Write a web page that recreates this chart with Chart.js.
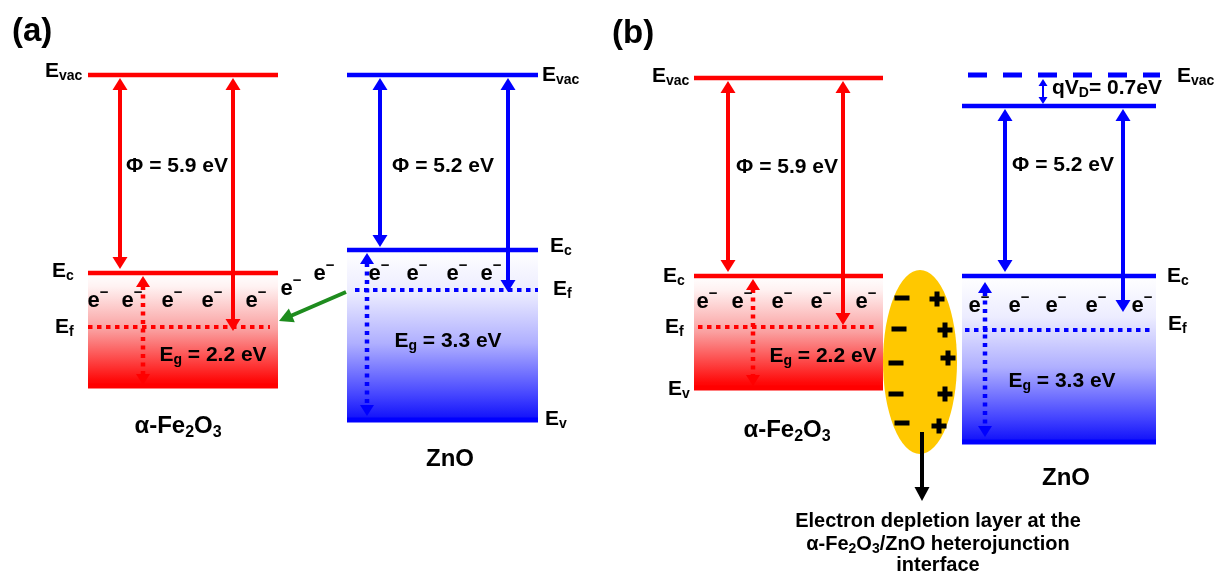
<!DOCTYPE html>
<html>
<head>
<meta charset="utf-8">
<title>Energy band diagram: α-Fe2O3 / ZnO</title>
<script src="https://cdn.jsdelivr.net/npm/chart.js@4/dist/chart.umd.min.js"></script>
<style>
  html, body { margin: 0; padding: 0; background: #ffffff; }
  #wrap { width: 1215px; height: 574px; }
</style>
</head>
<body>
<div id="wrap"><canvas id="diagram" width="1215" height="574"></canvas></div>
<script>
// ---------- values shown on the diagram ----------
const panelTags      = ['(a)', '(b)'];
const blocks         = ['α-Fe2O3 (a)', 'ZnO (a)', 'α-Fe2O3 (b)', 'ZnO (b)'];
const workFunction   = [5.9, 5.2, 5.9, 5.2];   // eV
const bandGap        = [2.2, 3.3, 2.2, 3.3];   // eV
const bandBending    = 0.7;                    // eV, qV_D after contact

// ---------- schematic band positions (diagram units, energy decreases downward) ----------
const bandLeft       = [88, 347, 694, 962];
const bandRight      = [278, 538, 883, 1156];
const vacuumLevel    = [75, 75, 78, 106];
const conductionEdge = [273, 250, 276, 276];
const fermiLevel     = [327, 290, 327, 330];
const valenceEdge    = [386, 420, 388, 442];
const fermiStart     = [88, 355, 698, 965];
const fermiEnd       = [270, 538, 875, 1150];
const zincVacuumRef  = [968, 1160, 75];        // x0, x1, level of ZnO vacuum before contact

const phiArrowX      = [[120, 233], [380, 508], [728, 843], [1005, 1123]];
const phiArrowTop    = [78, 78, 81, 109];
const phiArrowBottom = [[269, 331], [247, 292], [272, 325], [272, 312]];
const gapArrowX      = [143, 367, 753, 985];
const gapArrowSpan   = [[276, 385], [253, 416], [279, 386], [282, 437]];

const electronX = [
  [94, 128, 168, 208, 252],
  [375, 413, 453, 487],
  [703, 738, 778, 817, 862],
  [975, 1015, 1052, 1092, 1138]
];
const electronBase   = [307, 280, 308, 312];
const movingElectrons = [[287, 295], [320, 280]];
const transferArrow  = [[346, 292], [279, 321]];

// depletion layer (panel b)
const depletion      = { cx: 920, cy: 362, rx: 37, ry: 92 };
const negativeIons   = [[902, 298], [899, 329], [896, 363], [896, 394], [902, 423]];
const positiveIons   = [[937, 299], [945, 330], [948, 358], [945, 394], [939, 426]];
const pointerArrow   = [[922, 432], [922, 501]];
const qvArrow        = [1043, 79, 104];

// ---------- text placement ----------
const levelLabels = [
  ['vac', 45, 77],  ['c', 52, 277],  ['f', 55, 333],
  ['vac', 542, 81], ['c', 550, 252], ['f', 553, 295], ['v', 545, 425],
  ['vac', 652, 82], ['c', 663, 282], ['f', 665, 333], ['v', 668, 395],
  ['vac', 1177, 82],['c', 1167, 282],['f', 1168, 330]
];
const phiLabelPos   = [[177, 172], [443, 172], [787, 173], [1063, 171]];
const gapLabelPos   = [[213, 361], [448, 347], [823, 362], [1062, 387]];
const materialPos   = [[178, 433], [450, 466], [787, 437], [1066, 485]];
const panelTagPos   = [[12, 41], [612, 43]];
const noteLines = [
  [['Electron depletion layer at the', 0]],
  [['α-Fe', 0], ['2', 1], ['O', 0], ['3', 1], ['/ZnO heterojunction', 0]],
  [['interface', 0]]
];
const notePos = [938, [527, 550, 571]];

// ---------- styling ----------
const FONT  = '"Liberation Sans", Arial, Helvetica, sans-serif';
const RED   = '#ff0000';
const BLUE  = '#0000ff';
const GREEN = '#1e8c1e';
const INK   = '#000000';
const bandColor = [RED, BLUE, RED, BLUE];
const fillStops = {
  [RED]:  [[0, 'rgba(255,255,255,1)'], [0.12, 'rgba(255,242,242,1)'], [0.5, 'rgba(250,160,160,1)'], [0.95, 'rgba(255,10,10,1)'], [1, 'rgba(255,0,0,1)']],
  [BLUE]: [[0, 'rgba(255,255,255,1)'], [0.25, 'rgba(236,236,255,1)'], [0.55, 'rgba(175,175,255,1)'], [0.85, 'rgba(70,70,255,1)'], [1, 'rgba(15,15,250,1)']]
};

function bandFill(i) {
  return (context) => {
    const chart = context.chart;
    const ys = chart.scales && chart.scales.y;
    if (!ys) return 'rgba(0,0,0,0)';
    const top = ys.getPixelForValue(conductionEdge[i]);
    const bottom = ys.getPixelForValue(valenceEdge[i]);
    if (!isFinite(top) || !isFinite(bottom)) return 'rgba(0,0,0,0)';
    const g = chart.ctx.createLinearGradient(0, top, 0, bottom);
    fillStops[bandColor[i]].forEach(([s, c]) => g.addColorStop(s, c));
    return g;
  };
}

const seg = (x0, x1, y) => [{ x: x0, y }, { x: x1, y }];
const datasets = [];
blocks.forEach((_, i) => {
  const c = bandColor[i];
  datasets.push({ data: seg(bandLeft[i], bandRight[i], vacuumLevel[i]), borderColor: c, borderWidth: 4.5, order: 0 });
  datasets.push({ data: seg(bandLeft[i], bandRight[i], conductionEdge[i]), borderColor: c, borderWidth: 4.5,
                  fill: '+1', backgroundColor: bandFill(i), order: 5 });
  datasets.push({ data: seg(bandLeft[i], bandRight[i], valenceEdge[i]), borderColor: c, borderWidth: 5, order: 0 });
  datasets.push({ data: seg(fermiStart[i], fermiEnd[i], fermiLevel[i]), borderColor: c, borderWidth: 4,
                  borderDash: [4.5, 4.5], order: 0 });
});
datasets.push({ data: seg(zincVacuumRef[0], zincVacuumRef[1], zincVacuumRef[2]), borderColor: BLUE,
                borderWidth: 5, borderDash: [19, 16], order: 0 });

// ---------- drawing helpers ----------
function richText(ctx, parts, x, y, size, align) {
  const pieces = parts.map(([t, k]) => {
    const s = k ? Math.round(size * 0.68) : size;
    ctx.font = `bold ${s}px ${FONT}`;
    return { t, k, s, w: ctx.measureText(t).width };
  });
  const total = pieces.reduce((a, p) => a + p.w, 0);
  let cx = align === 'center' ? x - total / 2 : (align === 'right' ? x - total : x);
  ctx.textAlign = 'left';
  ctx.textBaseline = 'alphabetic';
  pieces.forEach(p => {
    ctx.font = `bold ${p.s}px ${FONT}`;
    const dy = p.k === 1 ? size * 0.16 : (p.k === 2 ? -size * 0.45 : 0);
    ctx.fillText(p.t, cx, y + dy);
    cx += p.w;
  });
}

function arrow(ctx, x0, y0, x1, y1, o) {
  const len = Math.hypot(x1 - x0, y1 - y0);
  const ux = (x1 - x0) / len, uy = (y1 - y0) / len;
  const hl = o.headLen, hw = o.headW / 2;
  const sx = o.start ? x0 + ux * hl * 0.9 : x0, sy = o.start ? y0 + uy * hl * 0.9 : y0;
  const ex = o.end ? x1 - ux * hl * 0.9 : x1, ey = o.end ? y1 - uy * hl * 0.9 : y1;
  ctx.save();
  ctx.strokeStyle = o.color;
  ctx.fillStyle = o.color;
  ctx.lineWidth = o.width;
  ctx.lineCap = 'butt';
  ctx.setLineDash(o.dash || []);
  ctx.beginPath(); ctx.moveTo(sx, sy); ctx.lineTo(ex, ey); ctx.stroke();
  ctx.setLineDash([]);
  const head = (tx, ty, dx, dy) => {
    const bx = tx - dx * hl, by = ty - dy * hl;
    ctx.beginPath();
    ctx.moveTo(tx, ty);
    ctx.lineTo(bx - dy * hw, by + dx * hw);
    ctx.lineTo(bx + dy * hw, by - dx * hw);
    ctx.closePath(); ctx.fill();
  };
  if (o.end) head(x1, y1, ux, uy);
  if (o.start) head(x0, y0, -ux, -uy);
  ctx.restore();
}

const diagramPlugin = {
  id: 'bandDiagram',
  afterDatasetsDraw(chart) {
    const { ctx } = chart;
    const sx = chart.scales.x, sy = chart.scales.y;
    const X = v => sx.getPixelForValue(v);
    const Y = v => sy.getPixelForValue(v);
    ctx.save();

    // depletion layer
    ctx.fillStyle = '#ffc800';
    ctx.beginPath();
    ctx.ellipse(X(depletion.cx), Y(depletion.cy),
                X(depletion.cx + depletion.rx) - X(depletion.cx),
                Y(depletion.cy + depletion.ry) - Y(depletion.cy), 0, 0, Math.PI * 2);
    ctx.fill();
    ctx.fillStyle = INK;
    negativeIons.forEach(([x, y]) => ctx.fillRect(X(x) - 7.5, Y(y) - 2.5, 15, 5));
    positiveIons.forEach(([x, y]) => {
      ctx.fillRect(X(x) - 7.5, Y(y) - 2.5, 15, 5);
      ctx.fillRect(X(x) - 2.5, Y(y) - 7.5, 5, 15);
    });
    arrow(ctx, X(pointerArrow[0][0]), Y(pointerArrow[0][1]), X(pointerArrow[1][0]), Y(pointerArrow[1][1]),
          { color: INK, width: 4, headLen: 14, headW: 15, end: true });

    // work-function and band-gap arrows
    blocks.forEach((_, i) => {
      const c = bandColor[i];
      phiArrowX[i].forEach((ax, k) => {
        arrow(ctx, X(ax), Y(phiArrowTop[i]), X(ax), Y(phiArrowBottom[i][k]),
              { color: c, width: 4, headLen: 12, headW: 15, start: true, end: true });
      });
      arrow(ctx, X(gapArrowX[i]), Y(gapArrowSpan[i][0]), X(gapArrowX[i]), Y(gapArrowSpan[i][1]),
            { color: c, width: 4.5, headLen: 11, headW: 14, start: true, end: true, dash: [4, 4.5] });
    });

    // qV_D marker
    arrow(ctx, X(qvArrow[0]), Y(qvArrow[1]), X(qvArrow[0]), Y(qvArrow[2]),
          { color: BLUE, width: 2, headLen: 7, headW: 9, start: true, end: true });

    // electron transfer arrow
    arrow(ctx, X(transferArrow[0][0]), Y(transferArrow[0][1]), X(transferArrow[1][0]), Y(transferArrow[1][1]),
          { color: GREEN, width: 4, headLen: 14, headW: 15, end: true });

    // text
    ctx.fillStyle = INK;
    panelTags.forEach((t, i) => richText(ctx, [[t, 0]], X(panelTagPos[i][0]), Y(panelTagPos[i][1]), 33, 'left'));
    levelLabels.forEach(([sub, x, y]) => richText(ctx, [['E', 0], [sub, 1]], X(x), Y(y), 21, 'left'));
    blocks.forEach((_, i) => {
      richText(ctx, [[`Φ = ${workFunction[i].toFixed(1)} eV`, 0]], X(phiLabelPos[i][0]), Y(phiLabelPos[i][1]), 21, 'center');
      richText(ctx, [['E', 0], ['g', 1], [` = ${bandGap[i].toFixed(1)} eV`, 0]],
               X(gapLabelPos[i][0]), Y(gapLabelPos[i][1]), 21, 'center');
      const name = bandColor[i] === RED
        ? [['α-Fe', 0], ['2', 1], ['O', 0], ['3', 1]]
        : [['ZnO', 0]];
      richText(ctx, name, X(materialPos[i][0]), Y(materialPos[i][1]), 24, 'center');
      electronX[i].forEach(ex => richText(ctx, [['e', 0], ['−', 2]], X(ex) + 4, Y(electronBase[i]), 22, 'center'));
    });
    movingElectrons.forEach(([ex, ey]) => richText(ctx, [['e', 0], ['−', 2]], X(ex) + 4, Y(ey), 22, 'center'));
    richText(ctx, [['qV', 0], ['D', 1], [`= ${bandBending.toFixed(1)}eV`, 0]], X(1052), Y(94), 21, 'left');
    noteLines.forEach((line, k) => richText(ctx, line, X(notePos[0]), Y(notePos[1][k]), 20, 'center'));

    ctx.restore();
  }
};

new Chart(document.getElementById('diagram'), {
  type: 'scatter',
  data: { datasets: datasets.map(d => Object.assign({
    showLine: true, pointRadius: 0, pointHoverRadius: 0, tension: 0,
    borderCapStyle: 'butt', fill: false
  }, d)) },
  options: {
    responsive: false,
    devicePixelRatio: 1,
    animation: false,
    events: [],
    layout: { padding: 0 },
    plugins: { legend: { display: false }, tooltip: { enabled: false } },
    scales: {
      x: { type: 'linear', min: 0, max: 1215, display: false },
      y: { type: 'linear', min: 0, max: 574, reverse: true, display: false }
    }
  },
  plugins: [diagramPlugin]
});
</script>
</body>
</html>
